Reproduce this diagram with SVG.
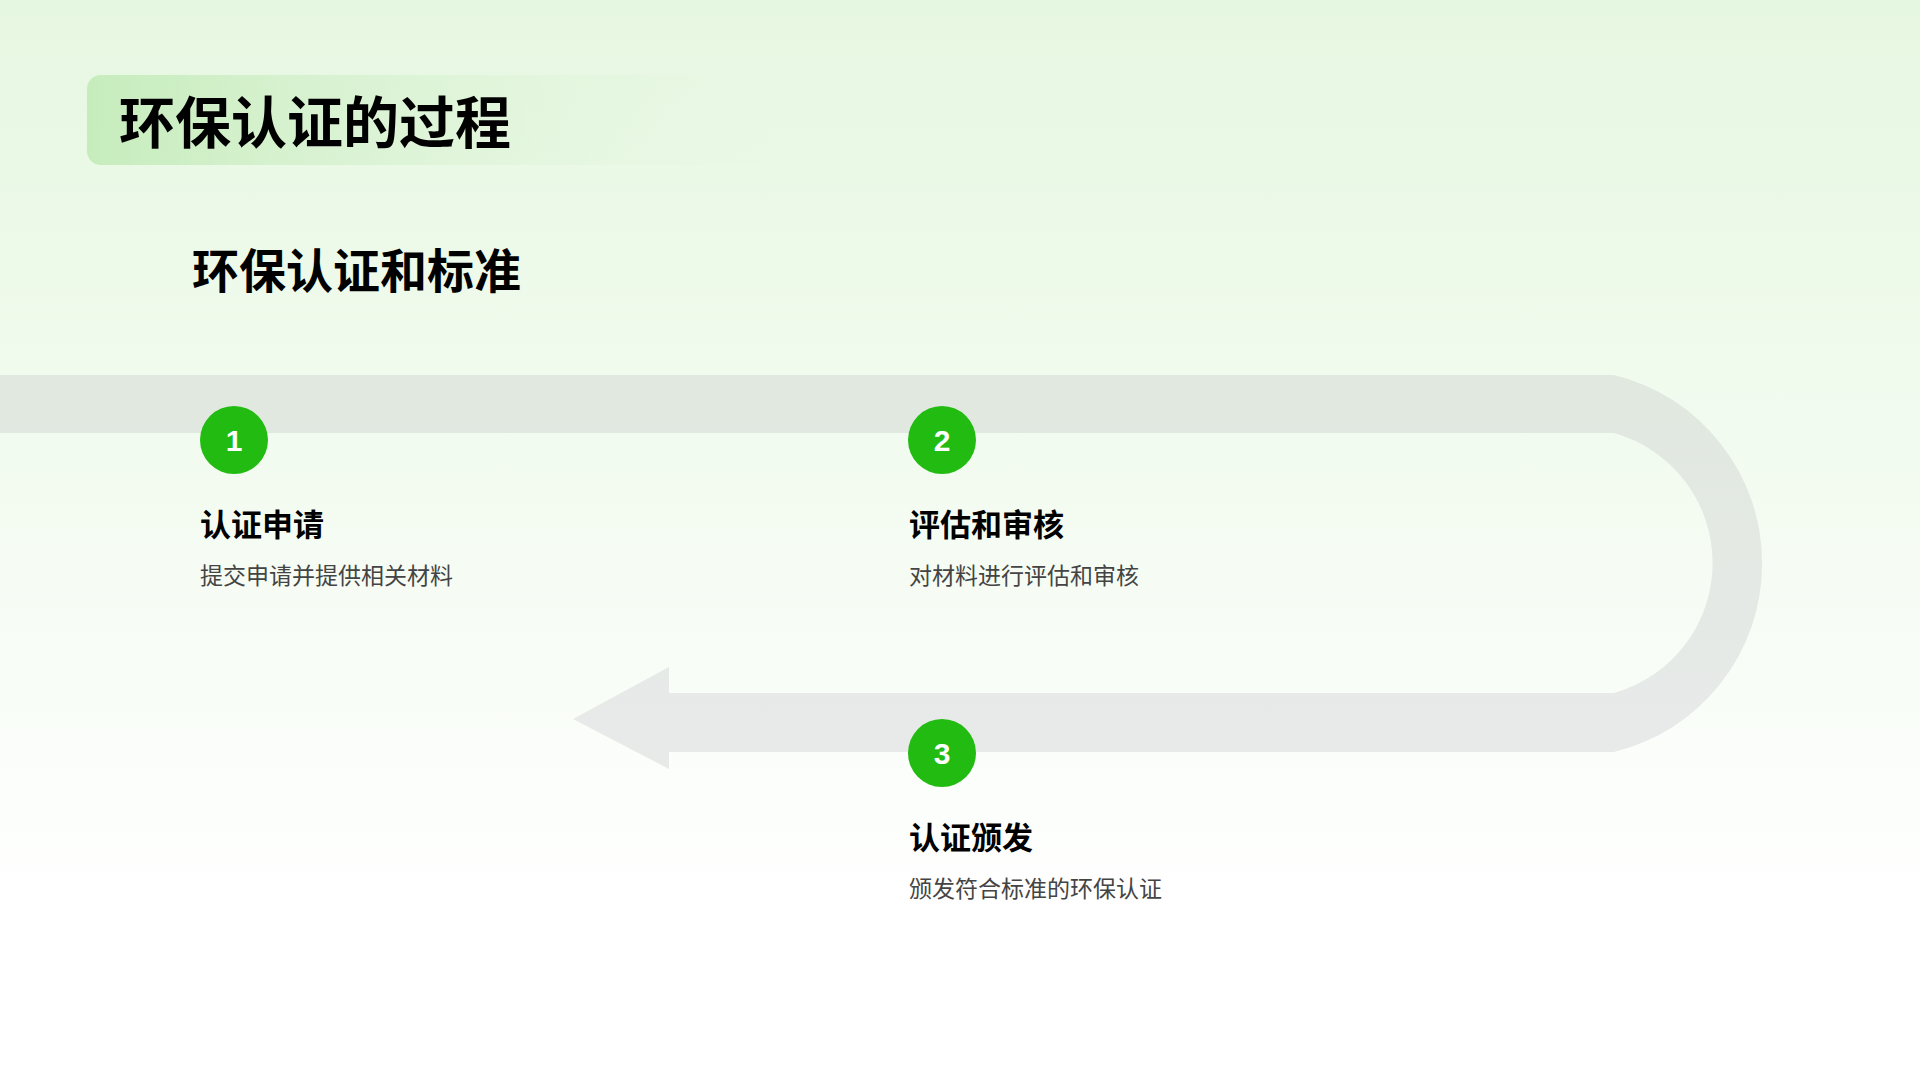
<svg xmlns="http://www.w3.org/2000/svg" width="1920" height="1080" viewBox="0 0 1920 1080">
<defs>
<linearGradient id="bg" x1="0" y1="0" x2="0" y2="1"><stop offset="0" stop-color="#e6f7e1"/><stop offset="0.85" stop-color="#ffffff"/></linearGradient>
<linearGradient id="tb" x1="0" y1="0" x2="1" y2="0"><stop offset="0" stop-color="#c6ecbc"/><stop offset="1" stop-color="#e6f7e1" stop-opacity="0"/></linearGradient>
<linearGradient id="tr" gradientUnits="userSpaceOnUse" x1="0" y1="375" x2="0" y2="769"><stop offset="0" stop-color="#e0e8df"/><stop offset="1" stop-color="#e8eaea"/></linearGradient>
<style>
.h{font-family:"Noto Sans CJK SC",sans-serif;font-weight:bold;fill:#000}
.d{font-family:"Noto Sans CJK SC",sans-serif;font-size:23px;fill:#444}
.c{fill:#22bb11}
.n{font-family:"Liberation Sans",sans-serif;font-weight:bold;font-size:30px;fill:#fff;text-anchor:middle}
</style>
</defs>
<rect width="1920" height="1080" fill="url(#bg)"/>
<rect x="87" y="75" width="730" height="90" rx="14" fill="url(#tb)"/>
<text class="h" x="119" y="143" font-size="56">环保认证的过程</text>
<text class="h" x="192" y="288" font-size="47">环保认证和标准</text>
<g id="connectors">
<path d="M0 375 H1614 A194 194 0 0 1 1614 752 H669 V769 L573 719 L669 667 V693 H1614 A135 135 0 0 0 1614 433 H0 Z" fill="url(#tr)"/>
</g>
<g id="step1"><circle class="c" cx="234" cy="440" r="34"/><text class="n" x="234" y="451">1</text>
<text class="h" x="200" y="536" font-size="31">认证申请</text><text class="d" x="200" y="584">提交申请并提供相关材料</text></g>
<g id="step2"><circle class="c" cx="942" cy="440" r="34"/><text class="n" x="942" y="451">2</text>
<text class="h" x="909" y="536" font-size="31">评估和审核</text><text class="d" x="909" y="584">对材料进行评估和审核</text></g>
<g id="step3"><circle class="c" cx="942" cy="753" r="34"/><text class="n" x="942" y="764">3</text>
<text class="h" x="909" y="849" font-size="31">认证颁发</text><text class="d" x="909" y="897">颁发符合标准的环保认证</text></g>
</svg>
